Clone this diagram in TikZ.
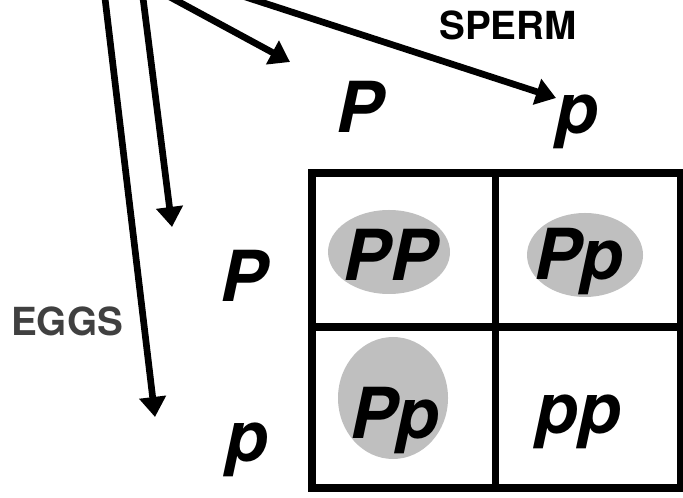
\documentclass[tikz,border=0pt]{standalone}
\usepackage{fontspec}
\setmainfont{TeX Gyre Heros}
\usetikzlibrary{arrows.meta}

\begin{document}
\begin{tikzpicture}[x=0.01cm, y=-0.01cm,
    allele/.style={inner sep=0pt, font=\fontsize{20}{20}\selectfont\bfseries\itshape},
    caption/.style={inner sep=0pt, font=\fontsize{11}{11}\selectfont\bfseries},
    gamete/.style={line width=1.9pt, -{Triangle[length=0.2cm, width=0.26cm]}},
    blob/.style={fill=black!25}]
    \clip (0,0) rectangle (683,498);

    % gametes
    \node[caption] (sperm) at (508,25) {SPERM};
    \node[caption, text=black!75] (eggs) at (67,321) {EGGS};
    \node[allele] (colP) at (360,107) {P};
    \node[allele] (colp) at (577,122) {p};
    \node[allele] (rowP) at (244,276) {P};
    \node[allele] (rowp) at (247,450) {p};

    % arrows from the parents above
    \coordinate (top1) at (104,-10);  \coordinate (tip1) at (155,417);
    \coordinate (top2) at (142,-10);  \coordinate (tip2) at (172,227);
    \coordinate (top3) at (157,-10);  \coordinate (tip3) at (290,62);
    \coordinate (top4) at (224,-10);  \coordinate (tip4) at (556,98);
    \draw[gamete] (top1) -- (tip1);
    \draw[gamete] (top2) -- (tip2);
    \draw[gamete] (top3) -- (tip3);
    \draw[gamete] (top4) -- (tip4);

    % shaded offspring
    \fill[blob] (389,252) ellipse [x radius=61, y radius=42];
    \fill[blob] (585,255) ellipse [x radius=58, y radius=42];
    \fill[blob] (393,398) ellipse [x radius=55, y radius=61];

    % punnett square
    \draw[line width=2pt] (312,173) rectangle (680,488);
    \draw[line width=2pt] (495,173) -- (495,488);
    \draw[line width=2pt] (312,327) -- (680,327);

    \node[allele] (PP) at (390,255) {PP};
    \node[allele] (Pp1) at (579,262) {Pp};
    \node[allele] (Pp2) at (395,421) {Pp};
    \node[allele] (pp) at (578,422) {pp};
\end{tikzpicture}
\end{document}
